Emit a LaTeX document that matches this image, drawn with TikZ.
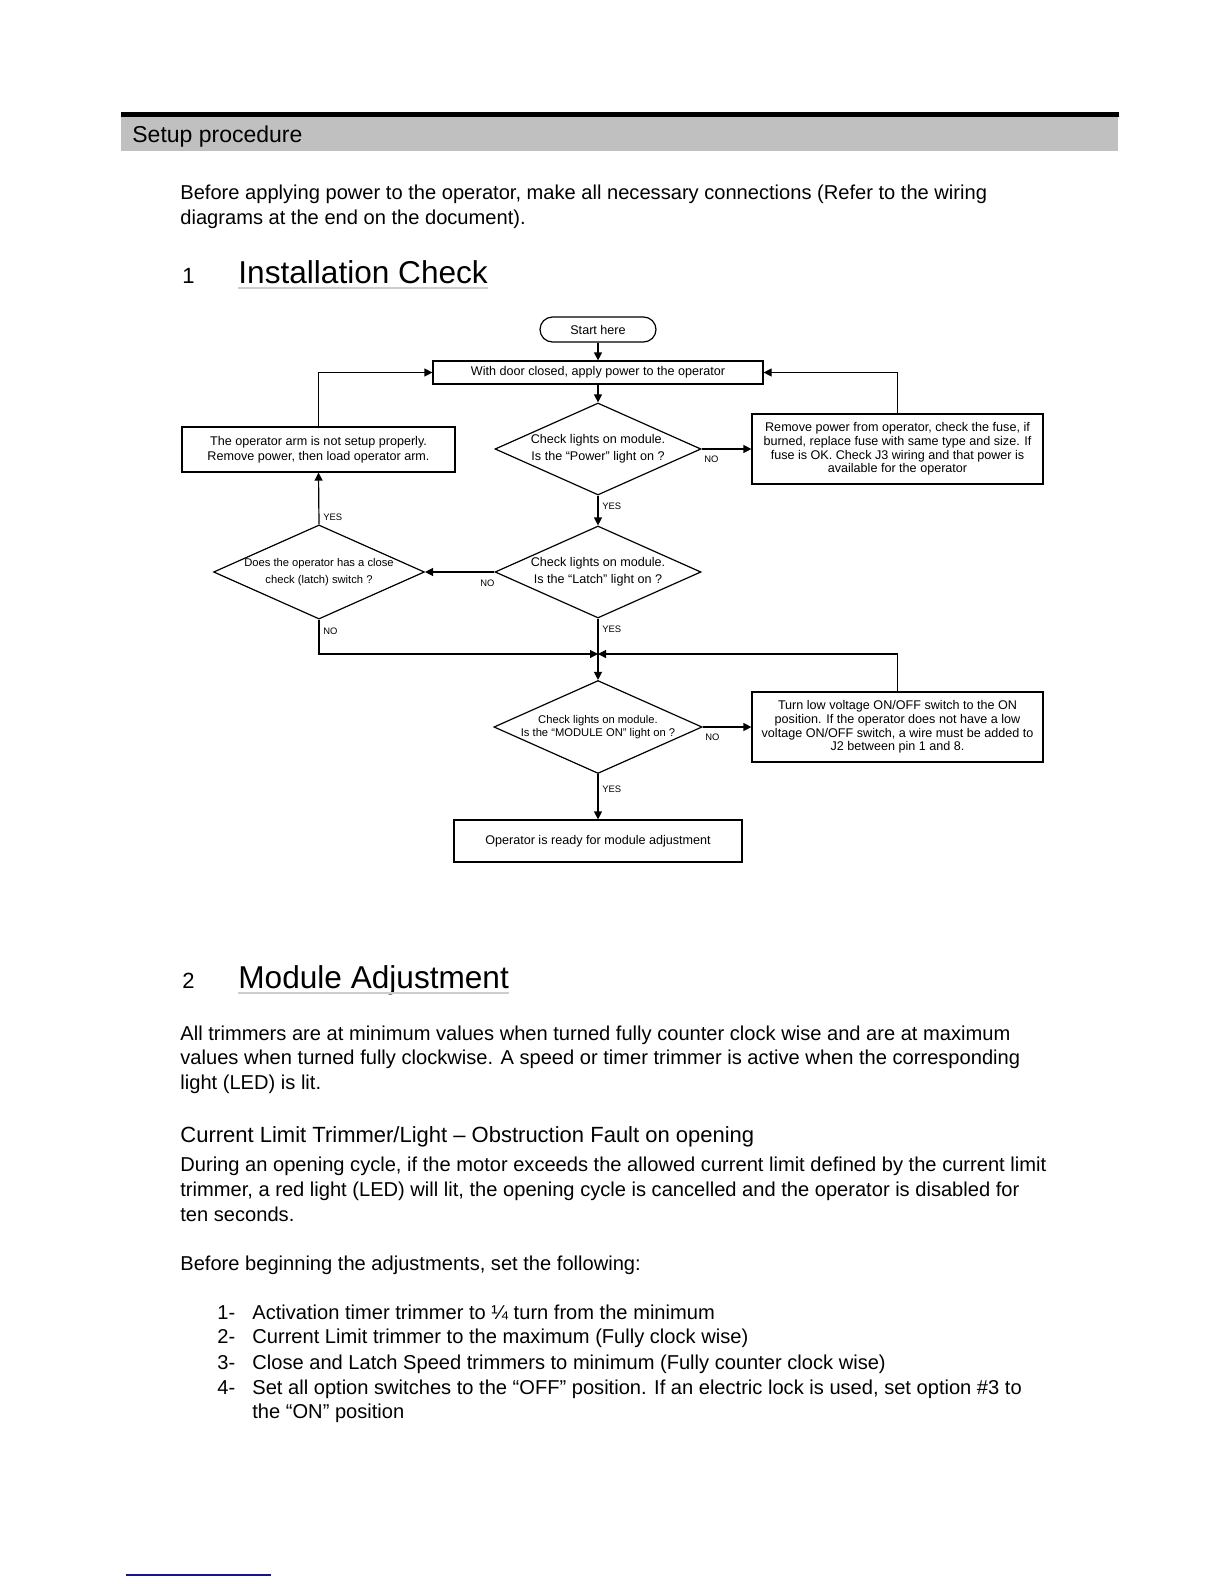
\documentclass[tikz,border=0pt]{standalone}
\usepackage{fontspec}
\setmainfont{Liberation Sans}
\usetikzlibrary{arrows.meta,shapes.geometric}
\definecolor{bandgray}{RGB}{192,192,192}
\definecolor{linegray}{RGB}{205,205,205}
\definecolor{footblue}{RGB}{20,20,140}
\newcommand{\flowfont}{\fontsize{6.3}{6.9}\selectfont}
\newcommand{\tagfont}{\fontsize{4.7}{5}\selectfont}
\tikzset{
  bodytext/.style={anchor=base west, inner sep=0pt, font=\fontsize{10.05}{12}\selectfont},
  bighead/.style={anchor=base west, inner sep=0pt, font=\fontsize{15.8}{18}\selectfont},
  headnum/.style={anchor=base west, inner sep=0pt, font=\fontsize{11}{13}\selectfont},
  chartbox/.style={draw, line width=0.6pt, rectangle, inner sep=0pt, align=center, font=\flowfont},
  decision/.style={draw, line width=0.6pt, diamond, aspect=2.24, inner sep=0pt,
    minimum width=103pt, minimum height=46pt, align=center},
  answer/.style={inner sep=0pt, font=\tagfont},
  arr/.style={line width=0.6pt, -{Triangle[length=4pt,width=4pt]}}
}
\begin{document}
\begin{tikzpicture}[x=0.5pt,y=-0.5pt]
  \useasboundingbox (0,0) rectangle (1224,1584);
  \fill[white] (0,0) rectangle (1224,1584);
  %% page header
  \fill[black] (121,112.5) rectangle (1119,117);
  \fill[bandgray] (121,117) rectangle (1118,151);
  \node[anchor=base west, inner sep=0pt, font=\fontsize{11.5}{13}\selectfont] (band) at (132,142) {Setup procedure};
  \node[bodytext] (intro1) at (180,199) {Before applying power to the operator, make all necessary connections (Refer to the wiring};
  \node[bodytext] (intro2) at (180,224) {diagrams at the end on the document).};
  %% section 1
  \node[headnum] (num1) at (182,283) {1};
  \node[bighead] (head1) at (238,283) {Installation Check};
  \draw[linegray, line width=0.6pt] ([yshift=-2.5pt]head1.base west) -- ([yshift=-2.5pt]head1.base east);

  %% flowchart
  \node[chartbox, rounded corners=6.25pt, minimum width=58pt, minimum height=12.5pt] (start) at (598,329.5) {Start here};
  \node[chartbox, minimum width=165pt, minimum height=11.5pt] (power) at (598,372.5) {With door closed, apply power to the operator};
  \node[decision, font=\fontsize{6.3}{8.3}\selectfont] (d1) at (598,449) {Check lights on module.\\Is the “Power” light on ?};
  \node[chartbox, font=\fontsize{6.3}{7.5}\selectfont, minimum width=136.5pt, minimum height=22.5pt] (armbox) at (318.5,449.5) {The operator arm is not setup properly.\\Remove power, then load operator arm.};
  \node[chartbox, minimum width=145.5pt, minimum height=35pt] (fusebox) at (897.5,449) {Remove power from operator, check the fuse, if\\burned, replace fuse with same type and size. If\\fuse is OK. Check J3 wiring and that power is\\available for the operator};
  \node[decision, font=\fontsize{6.3}{8.3}\selectfont] (d2) at (598,572) {Check lights on module.\\Is the “Latch” light on ?};
  \node[decision, minimum width=104pt, font=\fontsize{5.6}{8.5}\selectfont] (d3) at (319,572) {Does the operator has a close\\check (latch) switch ?};
  \coordinate (join) at (598,654);
  \node[decision, font=\fontsize{5.6}{6.8}\selectfont] (d4) at (598,727) {Check lights on module.\\Is the “MODULE ON” light on ?};
  \node[chartbox, minimum width=145.5pt, minimum height=35pt] (switchbox) at (897.5,727) {Turn low voltage ON/OFF switch to the ON\\position. If the operator does not have a low\\voltage ON/OFF switch, a wire must be added to\\J2 between pin 1 and 8.};
  \node[chartbox, minimum width=144pt, minimum height=21pt] (ready) at (598,841) {Operator is ready for module adjustment};

  %% connectors
  \draw[arr] (start) -- (power);
  \draw[arr] (power) -- (d1);
  \draw[arr] (d1.east) -- (d1.east -| fusebox.west);
  \draw[arr] (fusebox.north) |- (power.east);
  \draw[arr] (armbox.north) |- (power.west);
  \draw[arr] (d1.south) -- (d2.north);
  \draw[arr] (d2.west) -- (d3.east);
  \draw[arr] (d3.north) -- (armbox.south);
  \draw[arr] (d3.south) |- (join);
  \draw[arr] (switchbox.north) |- (join);
  \draw[arr] (d2.south) -- (d4.north);
  \draw[arr] (d4.east) -- (d4.east -| switchbox.west);
  \draw[arr] (d4.south) -- (ready);

  %% yes / no tags
  \node[answer, anchor=west] (no1) at (704,459) {NO};
  \node[answer, anchor=west] (yes1) at (602,506) {YES};
  \node[answer, anchor=west] (yes2) at (323,517) {YES};
  \node[answer, anchor=west] (no2) at (480,583) {NO};
  \node[answer, anchor=west] (no3) at (323,631) {NO};
  \node[answer, anchor=west] (yes3) at (602,629) {YES};
  \node[answer, anchor=west] (no4) at (705,737) {NO};
  \node[answer, anchor=west] (yes4) at (602,789) {YES};

  %% section 2
  \node[headnum] (num2) at (182,988) {2};
  \node[bighead] (head2) at (238,988) {Module Adjustment};
  \draw[linegray, line width=0.6pt] ([yshift=-2.5pt]head2.base west) -- ([yshift=-2.5pt]head2.base east);
  \node[bodytext] (trim1) at (180,1040) {All trimmers are at minimum values when turned fully counter clock wise and are at maximum};
  \node[bodytext] (trim2) at (180,1064) {values when turned fully clockwise. A speed or timer trimmer is active when the corresponding};
  \node[bodytext] (trim3) at (180,1089) {light (LED) is lit.};
  \node[anchor=base west, inner sep=0pt, font=\fontsize{11}{13}\selectfont] (subhead) at (180,1142) {Current Limit Trimmer/Light – Obstruction Fault on opening};
  \node[bodytext] (fault1) at (180,1171) {During an opening cycle, if the motor exceeds the allowed current limit defined by the current limit};
  \node[bodytext] (fault2) at (180,1196) {trimmer, a red light (LED) will lit, the opening cycle is cancelled and the operator is disabled for};
  \node[bodytext] (fault3) at (180,1221) {ten seconds.};
  \node[bodytext] (before) at (180,1270) {Before beginning the adjustments, set the following:};
  %% settings list
  \node[bodytext] (n1) at (217,1319) {1-};
  \node[bodytext] (item1) at (252,1319) {Activation timer trimmer to ¼ turn from the minimum};
  \node[bodytext] (n2) at (217,1343) {2-};
  \node[bodytext] (item2) at (252,1343) {Current Limit trimmer to the maximum (Fully clock wise)};
  \node[bodytext] (n3) at (217,1369) {3-};
  \node[bodytext] (item3) at (252,1369) {Close and Latch Speed trimmers to minimum (Fully counter clock wise)};
  \node[bodytext] (n4) at (217,1394) {4-};
  \node[bodytext] (item4) at (252,1394) {Set all option switches to the “OFF” position. If an electric lock is used, set option \#3 to};
  \node[bodytext] (item4b) at (252,1418) {the “ON” position};
  %% footnote rule
  \draw[footblue, line width=1pt] (126,1575) -- (271,1575);
\end{tikzpicture}
\end{document}
